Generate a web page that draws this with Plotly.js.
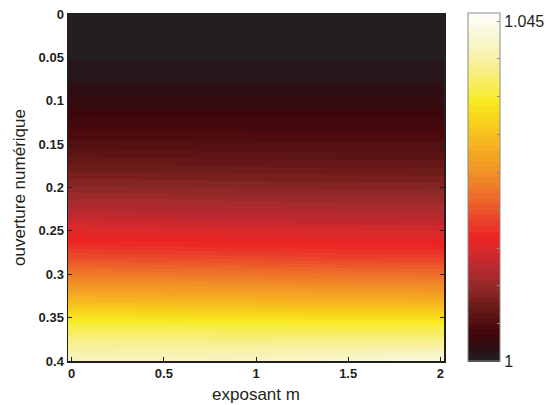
<!DOCTYPE html>
<html>
<head>
<meta charset="utf-8">
<script src="https://cdn.plot.ly/plotly-3.0.1.min.js"></script>
<style>html,body{margin:0;padding:0;background:#fff;}#chart{width:548px;height:405px;}</style>
</head>
<body>
<div id="chart"></div>
<script>
// exposant m (columns)
var exposantM = [0, 0.5, 1, 1.5, 2];
// ouverture numérique (rows)
var ouverture = [0, 0.02, 0.04, 0.06, 0.08, 0.10, 0.12, 0.14, 0.16, 0.18, 0.20,
                 0.22, 0.24, 0.26, 0.28, 0.30, 0.32, 0.34, 0.36, 0.38, 0.40];
// values (one row per ouverture, one column per exposant)
var row000 = [1.0000, 1.0000, 1.0000, 1.0000, 1.0000];
var row002 = [1.0001, 1.0001, 1.0001, 1.0001, 1.0001];
var row004 = [1.0004, 1.0004, 1.0004, 1.0004, 1.0004];
var row006 = [1.0009, 1.0009, 1.0009, 1.0009, 1.0009];
var row008 = [1.0015, 1.0015, 1.0015, 1.0015, 1.0015];
var row010 = [1.0024, 1.0024, 1.0024, 1.0024, 1.0024];
var row012 = [1.0036, 1.0036, 1.0036, 1.0036, 1.0036];
var row014 = [1.0047, 1.0047, 1.0046, 1.0046, 1.0046];
var row016 = [1.0061, 1.0060, 1.0059, 1.0058, 1.0058];
var row018 = [1.0078, 1.0077, 1.0076, 1.0075, 1.0074];
var row020 = [1.0096, 1.0095, 1.0093, 1.0092, 1.0091];
var row022 = [1.0116, 1.0115, 1.0113, 1.0111, 1.0110];
var row024 = [1.0140, 1.0138, 1.0136, 1.0134, 1.0133];
var row026 = [1.0165, 1.0163, 1.0160, 1.0158, 1.0157];
var row028 = [1.0194, 1.0192, 1.0189, 1.0186, 1.0185];
var row030 = [1.0230, 1.0228, 1.0225, 1.0222, 1.0220];
var row032 = [1.0270, 1.0268, 1.0265, 1.0262, 1.0260];
var row034 = [1.0316, 1.0314, 1.0311, 1.0309, 1.0308];
var row036 = [1.0359, 1.0358, 1.0356, 1.0355, 1.0355];
var row038 = [1.0392, 1.0392, 1.0392, 1.0393, 1.0395];
var row040 = [1.0417, 1.0418, 1.0421, 1.0428, 1.0440];

var xTickVals = [0, 0.5, 1, 1.5, 2];
var yTickVals = [0, 0.05, 0.1, 0.15, 0.2, 0.25, 0.3, 0.35, 0.4];
var cbTickVals = [1, 1.005, 1.01, 1.015, 1.02, 1.025, 1.03, 1.035, 1.04, 1.045];
var cbTickText = ['1', '', '', '', '', '', '', '', '', '1.045'];
var cMin = 1, cMax = 1.046;

var zData = [row000, row002, row004, row006, row008, row010, row012, row014, row016, row018, row020,
             row022, row024, row026, row028, row030, row032, row034, row036, row038, row040];

// colour map anchors (fraction, colour)
var anchors = [
  [0.00, [35, 31, 32]],
  [0.03, [44, 16, 20]],
  [0.06, [58, 7, 9]],
  [0.09, [74, 10, 14]],
  [0.12, [90, 18, 20]],
  [0.16, [110, 28, 26]],
  [0.20, [140, 40, 38]],
  [0.24, [168, 42, 44]],
  [0.28, [191, 40, 48]],
  [0.32, [220, 42, 44]],
  [0.355, [237, 34, 36]],
  [0.40, [234, 62, 42]],
  [0.45, [236, 94, 42]],
  [0.50, [239, 122, 40]],
  [0.55, [242, 148, 38]],
  [0.60, [245, 168, 33]],
  [0.65, [247, 188, 30]],
  [0.70, [248, 212, 28]],
  [0.75, [247, 234, 31]],
  [0.80, [247, 237, 90]],
  [0.85, [247, 240, 142]],
  [0.90, [247, 243, 184]],
  [0.95, [249, 248, 218]],
  [1.00, [253, 253, 248]]
];
function interp(f) {
  for (var i = 1; i < anchors.length; i++) {
    if (f <= anchors[i][0]) {
      var a = anchors[i - 1], b = anchors[i];
      var t = (f - a[0]) / (b[0] - a[0]);
      var c = a[1].map(function (v, j) { return Math.round(v + t * (b[1][j] - v)); });
      return 'rgb(' + c.join(',') + ')';
    }
  }
  return 'rgb(' + anchors[anchors.length - 1][1].join(',') + ')';
}
var nLevels = 64;
var colorscale = [];
for (var k = 0; k < nLevels; k++) {
  var col = interp(k / (nLevels - 1));
  colorscale.push([k / nLevels, col]);
  colorscale.push([(k + 1) / nLevels, col]);
}

var trace = {
  type: 'heatmap',
  x: exposantM,
  y: ouverture,
  z: zData,
  zsmooth: 'best',
  zmin: cMin,
  zmax: cMax,
  colorscale: colorscale,
  hoverinfo: 'skip',
  colorbar: {
    x: 1.063, xanchor: 'left', xref: 'paper',
    y: 0.5, yanchor: 'middle', len: 1.003, lenmode: 'fraction',
    thickness: 32, thicknessmode: 'pixels',
    outlinewidth: 1, outlinecolor: '#8a8a8a',
    ticks: 'inside', ticklen: 3, tickcolor: '#8a8a8a',
    tickvals: cbTickVals, ticktext: cbTickText,
    tickfont: {family: 'Liberation Sans, Arial, sans-serif', size: 16, color: '#231f20'},
    ypad: 0, xpad: 0
  }
};

var axisFont = {family: 'Liberation Sans, Arial, sans-serif', size: 13, color: '#231f20', weight: 'bold'};
var titleFont = {family: 'Liberation Sans, Arial, sans-serif', size: 17, color: '#231f20'};

var layout = {
  width: 548, height: 405,
  margin: {l: 68, r: 104, t: 14, b: 44, pad: 0, autoexpand: false},
  paper_bgcolor: '#ffffff', plot_bgcolor: '#ffffff',
  xaxis: {
    range: [-0.02, 2.02], tickvals: xTickVals, ticks: 'inside', ticklen: 4,
    tickcolor: '#231f20', showline: true, linecolor: '#231f20', linewidth: 1.5,
    mirror: 'ticks', showgrid: false, zeroline: false, tickfont: axisFont,
    automargin: false,
    title: {text: 'exposant m', font: titleFont, standoff: 8}
  },
  yaxis: {
    range: [0.4, 0], tickvals: yTickVals, ticks: 'inside', ticklen: 4,
    tickcolor: '#231f20', showline: true, linecolor: '#231f20', linewidth: 1.5,
    mirror: 'ticks', showgrid: false, zeroline: false, tickfont: axisFont,
    automargin: false,
    title: {text: 'ouverture numérique', font: titleFont, standoff: 8}
  }
};

Plotly.newPlot('chart', [trace], layout, {displayModeBar: false, staticPlot: true});
</script>
</body>
</html>
